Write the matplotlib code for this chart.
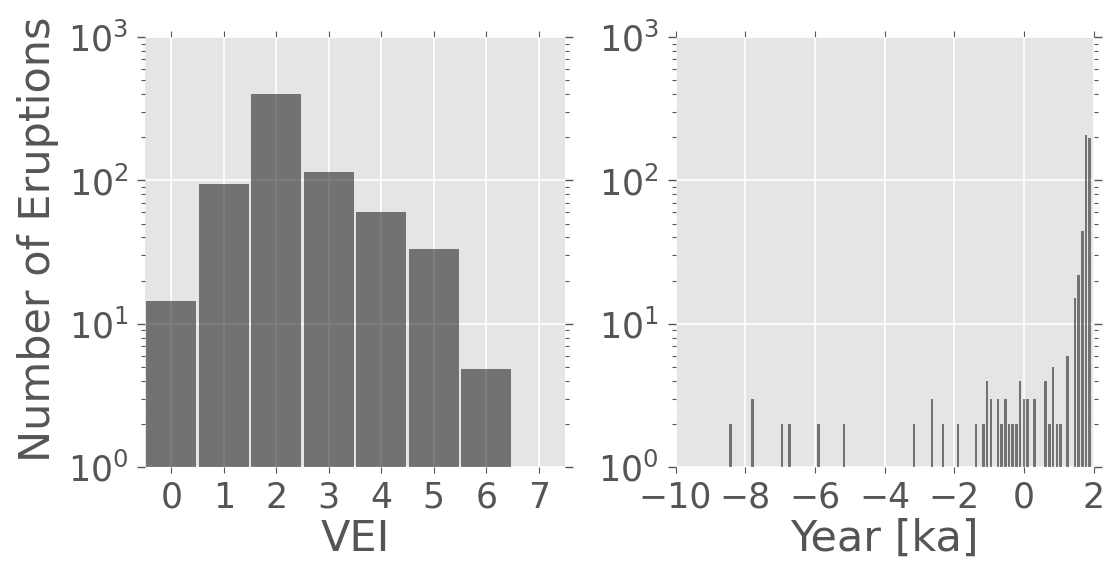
import matplotlib
matplotlib.use("Agg")
import matplotlib.pyplot as plt
from matplotlib.ticker import LogLocator, NullFormatter

# ---- data ----
vei = [0, 1, 2, 3, 4, 5, 6]
vei_counts = [14.5, 94, 404, 114, 60, 33, 4.85]

# bin centres of the eruption-year histogram (ka) and counts per bin
year_ka = [-8.422, -7.791, -6.949, -6.738, -5.897, -5.160, -3.161, -2.635,
           -2.319, -1.898, -1.372, -1.162, -1.057, -0.951, -0.741, -0.636,
           -0.530, -0.425, -0.320, -0.215, -0.110, -0.004, 0.101, 0.311,
           0.627, 0.732, 0.837, 0.943, 1.048, 1.258, 1.469, 1.574, 1.679,
           1.784, 1.890]
year_counts = [2, 3, 2, 2, 2, 2, 2, 3,
               2, 2, 2, 2, 4, 3, 3, 2,
               3, 2, 2, 2, 4, 3, 3, 3,
               4, 2, 5, 2, 2, 6, 15, 22, 44,
               206, 198]
bin_width = 0.1052

vei_ticks = [0, 1, 2, 3, 4, 5, 6, 7]
year_ticks = [-10, -8, -6, -4, -2, 0, 2]

TXT = '#555555'
plt.rcParams.update({
    'font.family': 'DejaVu Sans',
    'text.color': TXT,
    'axes.labelcolor': TXT,
    'xtick.color': TXT,
    'ytick.color': TXT,
})

fig = plt.figure(figsize=(11.12, 5.62), dpi=100)
ax1 = fig.add_axes([0.1304, 0.1690, 0.3777, 0.7650])
ax2 = fig.add_axes([0.6075, 0.1690, 0.3760, 0.7650])

for ax in (ax1, ax2):
    ax.set_facecolor('#E5E5E5')
    for s in ax.spines.values():
        s.set_visible(False)
    ax.set_axisbelow(True)
    ax.grid(True, which='major', color='white', linewidth=1.2)
    ax.set_yscale('log')
    ax.set_ylim(1, 1000)
    ax.yaxis.set_major_locator(LogLocator(base=10, numticks=10))
    ax.yaxis.set_minor_locator(LogLocator(base=10, subs=range(2, 10), numticks=20))
    ax.yaxis.set_minor_formatter(NullFormatter())
    ax.tick_params(axis='both', which='both', direction='out',
                   top=True, right=True, labelsize=25, color=TXT)
    ax.tick_params(axis='y', which='major', length=6, width=1, pad=6)
    ax.tick_params(axis='y', which='minor', length=3, width=0.8)
    ax.tick_params(axis='x', which='major', length=4, width=0.8, pad=6)

ax1.bar(vei, vei_counts, width=0.95, color='k', alpha=0.5, linewidth=0)
ax1.set_xlim(-0.5, 7.5)
ax1.set_xticks(vei_ticks)
ax1.set_xlabel('VEI', fontsize=31, labelpad=2)
ax1.set_ylabel('Number of Eruptions', fontsize=31)
ax1.yaxis.set_label_coords(-0.205, 0.53)

ax2.bar(year_ka, year_counts, width=bin_width * 0.72, color='k', alpha=0.5,
        linewidth=0)
ax2.set_xlim(-10, 2)
ax2.set_xticks(year_ticks)
ax2.set_xticklabels(['\u221210', '\u22128', '\u22126', '\u22124', '\u22122', '0', '2'])
ax2.set_xlabel('Year [ka]', fontsize=31, labelpad=2)

fig.savefig('out.png', dpi=100)
